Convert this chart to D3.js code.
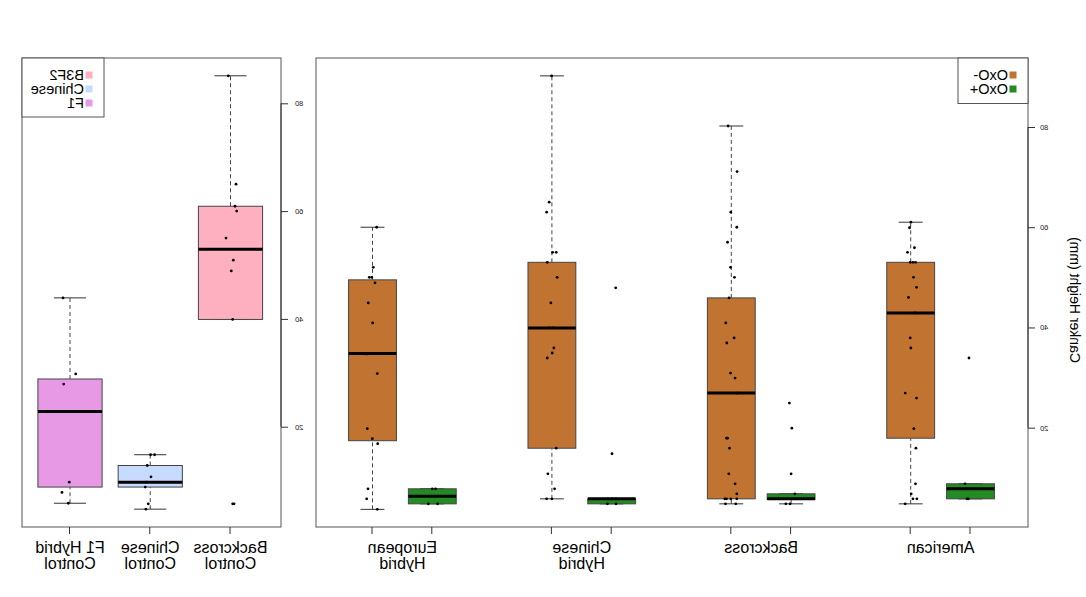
<!DOCTYPE html>
<html><head><meta charset="utf-8">
<script src="https://cdn.jsdelivr.net/npm/d3@7"></script>
<style>
body{margin:0;background:#fff}
svg{display:block}
text{font-family:"Liberation Sans",Arial,Helvetica,sans-serif}
</style>
</head><body>
<svg id="c" width="1086" height="597"></svg>
<script>
// ---------------- DATA ----------------
const yTicks = [20, 40, 60, 80];

// Main panel: groups and treatments
const groupLabels = ["American", "Backcross", "Chinese\nHybrid", "European\nHybrid"];
const groupCenters = [1.5, 4.5, 7.5, 10.5];
const treatments = ["OxO-", "OxO+"];
const treatmentColors = ["#C17332", "#228B22"];
const mainPositions = [1, 2, 4, 5, 7, 8, 10, 11];
const mainTreatment = [1, 0, 1, 0, 1, 0, 1, 0];
// [lower whisker, q1, median, q3, upper whisker]
const mainStats = [
  [5.8, 5.8, 7.8, 8.8, 8.8],
  [4.8, 17.9, 42.9, 53.0, 61.0],
  [4.8, 5.7, 5.8, 6.8, 6.8],
  [4.8, 5.8, 26.9, 45.9, 80.2],
  [4.8, 4.8, 5.8, 5.8, 5.8],
  [5.8, 15.9, 39.9, 53.0, 90.2],
  [4.8, 4.8, 6.3, 7.8, 7.8],
  [3.7, 17.4, 34.8, 49.5, 60.0]
];
const amPlus = [33.9, 8.8, 7.8, 5.8, 5.8];
const amMinus = [61.0, 59.9, 55.9, 55.0, 53.0, 53.0, 53.0, 50.0, 48.0, 46.0, 42.9, 37.9, 35.9, 26.9, 25.9, 19.8, 15.9, 8.8, 6.8, 5.8, 5.8, 4.8];
const bcPlus = [24.9, 19.9, 10.8, 6.8, 5.8, 4.8, 4.8];
const bcMinus = [80.2, 71.1, 63.0, 60.0, 57.0, 52.0, 50.0, 45.9, 40.9, 37.9, 36.9, 30.9, 29.9, 26.9, 17.9, 17.9, 15.9, 10.8, 8.8, 6.8, 5.8, 5.8, 5.8, 5.8, 4.8, 4.8];
const chPlus = [47.9, 14.8, 5.8, 5.8, 5.8, 4.8, 4.8];
const chMinus = [90.2, 65.0, 63.0, 55.0, 55.0, 53.0, 50.0, 44.9, 39.9, 39.9, 35.9, 34.9, 33.9, 15.9, 10.8, 7.8, 5.8, 5.8];
const euPlus = [7.8, 7.8, 4.8, 4.8];
const euMinus = [60.0, 52.0, 50.0, 50.0, 48.9, 44.9, 40.9, 34.7, 30.8, 19.8, 17.8, 16.8, 7.8, 5.8, 3.7];
const mainValues = [amPlus, amMinus, bcPlus, bcMinus, chPlus, chMinus, euPlus, euMinus];
// horizontal jitter of points (x-axis units)
const mainJitter = [
  [0.025, 0.092, 0.063, 0.058, 0.037],
  [-0.003, 0.02, -0.063, 0.053, 0.008, -0.037, -0.08, -0.047, -0.097, 0.037, -0.075, 0.008, -0.003, 0.092, -0.097, -0.053, -0.087, -0.08, -0.008, -0.037, -0.103, 0.092],
  [0.028, -0.012, 0, -0.062, -0.083, 0.088, 0.017],
  [0.053, -0.097, 0.008, -0.092, 0.063, 0.013, -0.053, 0.037, 0.092, -0.047, 0.075, 0.013, -0.063, -0.097, 0.08, 0.063, 0.03, 0.042, -0.063, -0.092, 0.108, 0.08, 0.008, -0.092, 0.097, -0.075],
  [-0.067, -0.005, 0.062, -0.005, -0.072, 0.072, -0.072],
  [0.005, 0.045, 0.088, -0.012, -0.072, 0.078, -0.088, 0.017, 0.045, -0.022, -0.033, -0.005, 0.078, -0.072, 0.067, -0.045, 0.088, 0],
  [-0.055, 0, 0.067, -0.088],
  [-0.07, -0.013, 0.053, 0.013, -0.042, 0.07, -0.003, 0.097, -0.08, 0.087, 0.003, -0.087, 0.075, 0.097, -0.08]
];

// Control panel
const controlLabels = ["Backcross\nControl", "Chinese\nControl", "F1 Hybrid\nControl"];
const controlPositions = [1, 2, 3];
const controlLegend = ["B3F2", "Chinese", "F1"];
const controlColors = ["#FFB0C0", "#C6DBFF", "#E899E6"];
const controlStats = [
  [39.9, 39.9, 52.9, 60.9, 85.1],
  [4.7, 8.8, 9.7, 12.8, 14.8],
  [5.8, 8.8, 22.8, 28.85, 43.9]
];
const bcControl = [85.1, 65.0, 60.9, 60.0, 55.0, 50.9, 48.9, 39.9, 5.7, 5.7];
const chControl = [14.8, 14.8, 12.8, 10.7, 9.7, 8.8, 5.7, 4.7];
const f1Control = [43.9, 29.8, 27.9, 22.8, 9.7, 7.8, 5.8];
const controlValues = [bcControl, chControl, f1Control];
const controlJitter = [
  [0.027, -0.069, -0.056, -0.077, 0.056, -0.035, -0.01, -0.027, -0.027, -0.044],
  [-0.004, -0.054, 0.037, -0.009, 0.05, 0.062, 0.025, 0.054],
  [0.087, -0.071, 0.079, 0.029, 0.009, 0.1, 0.021]
];
const yTitle = "Canker Height (mm)";

// ---------------- DRAW ----------------
const W = 1086, H = 597;
const svg = d3.select("#c");
// the whole figure is mirrored horizontally
const root = svg.append("g").attr("transform", `translate(${W},0) scale(-1,1)`);

const mainP = {x0: 58, x1: 770, y0: 58, y1: 527};
const ctrlP = {x0: 805, x1: 1064, y0: 58, y1: 527};

const xMain = d3.scaleLinear().domain([1, 11]).range([115.5, 713.5]);
const yMain = d3.scaleLinear().domain([0, 80]).range([527.9, 127]);
const xCtrl = d3.scaleLinear().domain([1, 3]).range([855.5, 1016]);
const yCtrl = d3.scaleLinear().domain([0, 80]).range([534.5, 103.3]);

function drawBoxes(g, x, y, positions, stats, fills, values, jitter) {
  const bw = 0.8;
  positions.forEach((p, i) => {
    const s = stats[i];
    const cx = x(p);
    const hw = (x(p + bw / 2) - x(p - bw / 2)) / 2;
    const bg = g.append("g");
    bg.append("line").attr("x1", cx).attr("x2", cx).attr("y1", y(s[0])).attr("y2", y(s[1]))
      .attr("stroke", "#444").attr("stroke-dasharray", "4,3");
    bg.append("line").attr("x1", cx).attr("x2", cx).attr("y1", y(s[3])).attr("y2", y(s[4]))
      .attr("stroke", "#444").attr("stroke-dasharray", "4,3");
    [s[0], s[4]].forEach(v => {
      bg.append("line").attr("x1", cx - hw / 2).attr("x2", cx + hw / 2).attr("y1", y(v)).attr("y2", y(v))
        .attr("stroke", "#333");
    });
    bg.append("rect").attr("x", cx - hw).attr("width", 2 * hw)
      .attr("y", y(s[3])).attr("height", Math.max(0.5, y(s[1]) - y(s[3])))
      .attr("fill", fills[i]).attr("stroke", "#444").attr("stroke-width", 1);
    bg.append("line").attr("x1", cx - hw).attr("x2", cx + hw).attr("y1", y(s[2])).attr("y2", y(s[2]))
      .attr("stroke", "#000").attr("stroke-width", 3);
  });
  positions.forEach((p, i) => {
    g.append("g").selectAll("circle").data(values[i]).join("circle")
      .attr("cx", (d, j) => x(p + jitter[i][j]))
      .attr("cy", d => y(d))
      .attr("r", 1.4).attr("fill", "#000");
  });
}

function drawPanel(P, x, y, positions, stats, fills, values, jitter, labels, labelPos, labelPad) {
  const g = root.append("g");
  drawBoxes(g, x, y, positions, stats, fills, values, jitter);
  g.append("rect").attr("x", P.x0).attr("y", P.y0).attr("width", P.x1 - P.x0).attr("height", P.y1 - P.y0)
    .attr("fill", "none").attr("stroke", "#555").attr("stroke-width", 1);
  const ya = g.append("g").attr("transform", `translate(${P.x0},0)`)
    .call(d3.axisLeft(y).tickValues(yTicks).tickSize(7).tickPadding(labelPad).tickFormat(d3.format("d")));
  ya.select(".domain").remove();
  ya.selectAll(".tick line").attr("stroke", "#333");
  ya.selectAll("text").attr("font-size", 7.5).attr("fill", "#222")
    .attr("font-family", "Liberation Sans, Arial, sans-serif");
  ya.append("line").attr("x1", 0).attr("x2", 0).attr("y1", y(yTicks[0])).attr("y2", y(yTicks[yTicks.length - 1]))
    .attr("stroke", "#333");
  const xa = g.append("g").attr("transform", `translate(0,${P.y1})`)
    .call(d3.axisBottom(x).tickValues(positions).tickSize(7).tickFormat(""));
  xa.select(".domain").remove();
  xa.selectAll(".tick line").attr("stroke", "#333");
  labels.forEach((lab, i) => {
    const t = g.append("text").attr("x", x(labelPos[i])).attr("y", 552.5)
      .attr("text-anchor", "middle").attr("font-size", 16).attr("fill", "#000");
    lab.split("\n").forEach((line, k) => {
      t.append("tspan").attr("x", x(labelPos[i])).attr("dy", k === 0 ? 0 : 16.7).text(line);
    });
  });
  return g;
}

drawPanel(mainP, xMain, yMain, mainPositions, mainStats,
  mainTreatment.map(t => treatmentColors[t]), mainValues, mainJitter,
  groupLabels, groupCenters, 5);

drawPanel(ctrlP, xCtrl, yCtrl, controlPositions, controlStats,
  controlColors, controlValues, controlJitter,
  controlLabels, controlPositions, 7);

root.append("text").attr("transform", "translate(16,300) rotate(-90)")
  .attr("text-anchor", "middle").attr("font-size", 14).attr("fill", "#000").text(yTitle);

function legend(x0, y0, w, h, labels, colors) {
  const g = root.append("g");
  g.append("rect").attr("x", x0).attr("y", y0).attr("width", w).attr("height", h)
    .attr("fill", "#fff").attr("stroke", "#555");
  labels.forEach((lab, i) => {
    const by = 79.5 + i * 14;
    g.append("rect").attr("x", x0 + 11.5).attr("y", by - 8).attr("width", 7).attr("height", 7)
      .attr("fill", colors[i]);
    g.append("text").attr("x", x0 + 20).attr("y", by).attr("font-size", 14.5).attr("fill", "#000").text(lab);
  });
}
legend(58, 58, 70, 45.5, treatments, treatmentColors);
legend(982, 58, 82, 59, controlLegend, controlColors);
</script>
</body></html>
